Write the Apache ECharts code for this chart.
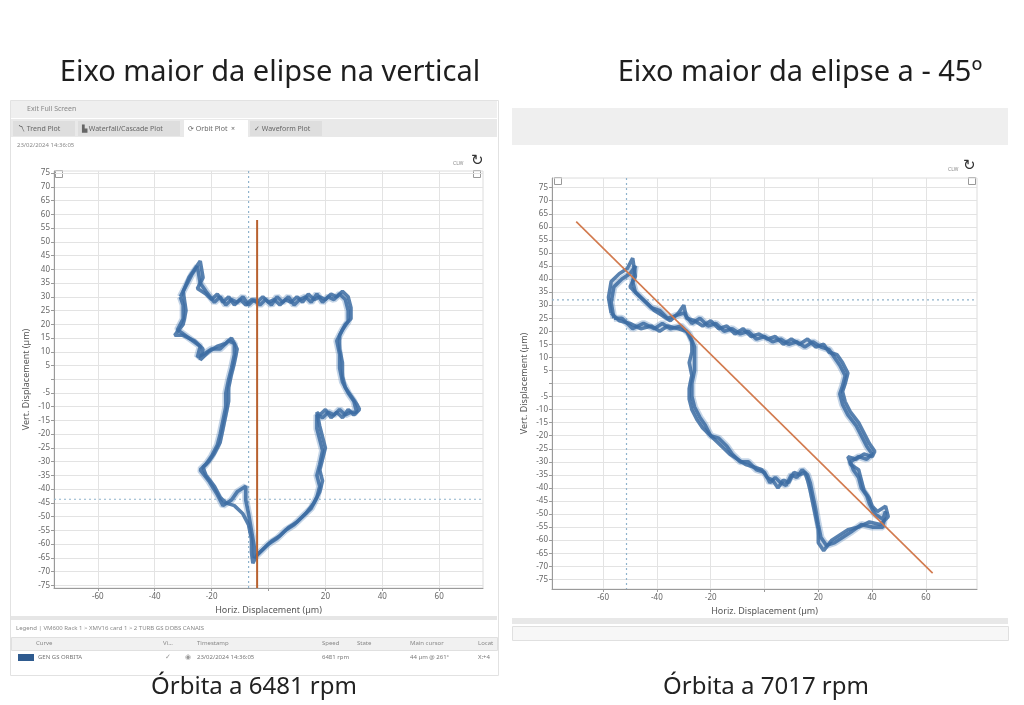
<!DOCTYPE html>
<html>
<head>
<meta charset="utf-8">
<script src="https://cdn.jsdelivr.net/npm/echarts@6/dist/echarts.min.js"></script>
<style>
  html, body { margin: 0; padding: 0; background: #fff; }
  #main { width: 1024px; height: 705px; }
</style>
</head>
<body>
<div id="main"></div>
<script>
// ticks (µm)
var xTicks = [-60, -40, -20, 0, 20, 40, 60];
var yTicks = [75, 70, 65, 60, 55, 50, 45, 40, 35, 30, 25, 20, 15, 10, 5, 0, -5, -10, -15, -20, -25, -30, -35, -40, -45, -50, -55, -60, -65, -70, -75];

// orbita a 6481 rpm (duas voltas)
var orbitLeftA = [[-30,32],[-28,37],[-26,40],[-24,43],[-23,37],[-25,33],[-22,31],[-20,29],[-18,31],[-16,28],[-14,30],[-12,27],[-10,29],[-8,27],[-6,29],[-4,28],[-2,30],[0,28],[2,29],[4,27],[6,29],[8,28],[10,30],[12,28],[14,31],[16,29],[18,30],[20,29],[22,31],[24,30],[26,32],[28,30],[29,26],[29,22],[27,20],[25,16],[25,11],[26,6],[26,1],[27,-3],[29,-6],[31,-9],[32,-11],[30,-13],[28,-11],[26,-14],[24,-12],[22,-14],[20,-11],[18,-13],[17,-12],[18,-17],[19,-21],[20,-25],[19,-29],[18,-33],[19,-37],[18,-41],[16,-45],[13,-49],[10,-52],[7,-54],[4,-57],[1,-59],[-2,-62],[-4,-64],[-5.5,-67],[-6,-63],[-6,-58],[-7,-53],[-9,-49],[-12,-46],[-15,-45],[-17,-43],[-19,-39],[-22,-35],[-23,-32],[-21,-30],[-19,-27],[-17,-23],[-16,-18],[-15,-13],[-14,-8],[-14,-3],[-13,2],[-12,6],[-11,11],[-13,15],[-15,13],[-18,12],[-21,10],[-24,7],[-23,11],[-26,14],[-30,16],[-33,16],[-30,20],[-29,25],[-30,32]];
var orbitLeftB = [[-31,30],[-29,34],[-27,38],[-25,41],[-24,35],[-22,32],[-19,28],[-17,30],[-15,27],[-13,29],[-11,28],[-9,30],[-7,27],[-5,29],[-3,27],[-1,29],[1,27],[3,30],[5,28],[7,30],[9,27],[11,29],[13,30],[15,28],[17,31],[19,28],[21,30],[23,29],[25,31],[27,29],[28,25],[28,21],[26,18],[24,14],[25,9],[25,4],[26,-1],[28,-5],[30,-8],[31,-12],[29,-12],[27,-13],[25,-11],[23,-13],[21,-12],[19,-14],[17,-13],[17,-18],[18,-22],[19,-26],[18,-31],[17,-35],[18,-39],[17,-43],[15,-47],[12,-50],[9,-53],[6,-55],[3,-58],[0,-60],[-3,-63],[-5,-65],[-5,-61],[-6,-55],[-7,-49],[-8,-44],[-8,-39],[-11,-41],[-13,-44],[-16,-46],[-18,-42],[-21,-37],[-24,-33],[-22,-31],[-20,-28],[-18,-24],[-17,-20],[-16,-15],[-15,-10],[-15,-5],[-14,0],[-13,4],[-12,9],[-12,13],[-14,14],[-17,11],[-20,11],[-23,9],[-25,8],[-24,12],[-28,15],[-32,18],[-30,22],[-30,27],[-31,30]];

// orbita a 7017 rpm
var orbitRightA = [[-57,27],[-58,33],[-57,39],[-54,42],[-51,44],[-49,48],[-48,41],[-50,37],[-47,34],[-44,31],[-41,28],[-38,26],[-35,24],[-32,27],[-30,30],[-29,25],[-26,24],[-23,22],[-20,24],[-17,21],[-14,22],[-11,19],[-8,21],[-5,18],[-2,19],[1,17],[4,18],[7,15],[10,17],[13,15],[16,17],[19,14],[22,15],[24,12],[27,11],[29,8],[31,4],[30,0],[29,-3],[30,-7],[32,-11],[35,-15],[37,-19],[39,-23],[41,-26],[40,-28],[37,-27],[34,-29],[31,-28],[32,-31],[35,-33],[36,-37],[37,-41],[39,-44],[40,-47],[42,-49],[45,-47],[46,-51],[43,-54],[39,-53],[35,-55],[31,-56],[28,-58],[25,-60],[22,-64],[20,-61],[20,-56],[19,-51],[18,-46],[17,-41],[16,-37],[15,-34],[13,-35],[11,-34],[9,-38],[7,-37],[5,-40],[3,-37],[1,-36],[-1,-33],[-4,-32],[-7,-31],[-10,-29],[-13,-27],[-15,-25],[-18,-22],[-21,-19],[-23,-17],[-25,-14],[-27,-10],[-28,-6],[-28,-2],[-27,3],[-28,8],[-27,12],[-27,16],[-29,20],[-32,21],[-36,22],[-39,20],[-42,22],[-46,21],[-50,23],[-54,24],[-57,27]];
var orbitRightB = [[-56,25],[-57,31],[-56,37],[-53,40],[-50,42],[-48,45],[-49,39],[-48,35],[-45,32],[-42,29],[-39,28],[-36,25],[-33,26],[-30,27],[-27,23],[-24,25],[-21,22],[-18,23],[-15,20],[-12,21],[-9,19],[-6,20],[-3,17],[0,18],[3,16],[6,17],[9,15],[12,16],[15,14],[18,16],[21,14],[24,13],[26,10],[28,7],[30,3],[29,-1],[28,-4],[29,-8],[31,-12],[34,-16],[36,-20],[38,-24],[40,-27],[38,-29],[35,-28],[32,-30],[33,-33],[35,-36],[36,-40],[38,-43],[39,-46],[41,-50],[44,-52],[45,-49],[44,-55],[40,-55],[36,-54],[32,-57],[29,-59],[26,-61],[23,-62],[21,-59],[20,-54],[19,-48],[18,-43],[17,-38],[16,-35],[14,-33],[12,-36],[10,-35],[8,-39],[6,-38],[4,-36],[2,-38],[0,-34],[-3,-33],[-6,-30],[-9,-30],[-12,-27],[-14,-24],[-17,-21],[-20,-20],[-22,-16],[-24,-13],[-26,-9],[-27,-5],[-27,0],[-26,5],[-26,10],[-26,14],[-28,19],[-31,22],[-35,21],[-38,23],[-41,21],[-45,23],[-49,21],[-53,25],[-56,25]];

// eixo maior (linha laranja) e cursores
var majorAxisLeft = [[-4, 58], [-4, -76]];
var majorAxisRight = [[-70, 62], [62.5, -72.6]];
var cursorLeftV = [[-7, 75.8], [-7, -76]];
var cursorLeftH = [[-75.4, -43.7], [75.4, -43.7]];
var cursorRightV = [[-51.3, 78.7], [-51.3, -78.7]];
var cursorRightH = [[-79, 32], [79, 32]];

var myChart = echarts.init(document.getElementById('main'));

function xAxisFor(idx, lim) {
  return {
    gridIndex: idx, type: 'value', min: -lim, max: lim,
    name: 'Horiz. Displacement (µm)', nameLocation: 'middle', nameGap: 14,
    nameTextStyle: { color: '#555', fontSize: 9, fontFamily: 'Noto Sans' },
    axisLine: { onZero: false, lineStyle: { color: '#9a9a9a' } },
    axisTick: { length: 3, customValues: xTicks, lineStyle: { color: '#9a9a9a' } },
    axisLabel: {
      customValues: xTicks, color: '#666', fontSize: 8, margin: 5, fontFamily: 'Noto Sans',
      formatter: function (v) { return v === 0 ? '' : v; }
    },
    splitLine: { show: true, lineStyle: { color: '#e3e3e3' } }
  };
}
function yAxisFor(idx, lo, hi) {
  return {
    gridIndex: idx, type: 'value', min: lo, max: hi,
    name: 'Vert. Displacement (µm)', nameLocation: 'middle', nameGap: 23, nameRotate: 90,
    nameTextStyle: { color: '#555', fontSize: 9, fontFamily: 'Noto Sans' },
    axisLine: { onZero: false, lineStyle: { color: '#9a9a9a' } },
    axisTick: { show: true, length: 3, customValues: yTicks, lineStyle: { color: '#9a9a9a' } },
    axisLabel: {
      customValues: yTicks, color: '#666', fontSize: 8, margin: 4, fontFamily: 'Noto Sans',
      formatter: function (v) { return v === 0 ? '' : v; }
    },
    splitLine: { show: true, lineStyle: { color: '#e3e3e3' } }
  };
}
function lineSeries(idx, data, color, width, opacity, type) {
  return {
    type: 'line', xAxisIndex: idx, yAxisIndex: idx, data: data,
    showSymbol: false, silent: true, animation: false,
    lineStyle: { color: color, width: width, opacity: opacity, type: type || 'solid' }
  };
}

var txt = function (x, y, s, size, color, align) {
  return { type: 'text', left: x, top: y, silent: true,
    style: { text: s, fontSize: size, fill: color || '#777', fontFamily: 'Noto Sans', textAlign: align || 'left' } };
};
var box = function (x, y, w, h, fill, stroke) {
  return { type: 'rect', left: x, top: y, silent: true, z: -1,
    shape: { width: w, height: h }, style: { fill: fill, stroke: stroke || null, lineWidth: 1 } };
};

myChart.setOption({
  backgroundColor: '#ffffff',
  animation: false,
  title: [
    { text: 'Eixo maior da elipse na vertical', left: 265, top: 53, textAlign: 'center',
      textStyle: { fontSize: 29, fontWeight: 'normal', color: '#1e1e1e', fontFamily: 'Noto Sans' } },
    { text: 'Eixo maior da elipse a - 45º', left: 795, top: 53, textAlign: 'center',
      textStyle: { fontSize: 29, fontWeight: 'normal', color: '#1e1e1e', fontFamily: 'Noto Sans' } },
    { text: 'Órbita a 6481 rpm', left: 249, top: 670, textAlign: 'center',
      textStyle: { fontSize: 24, fontWeight: 'normal', color: '#222', fontFamily: 'Noto Sans' } },
    { text: 'Órbita a 7017 rpm', left: 761, top: 670, textAlign: 'center',
      textStyle: { fontSize: 24, fontWeight: 'normal', color: '#222', fontFamily: 'Noto Sans' } }
  ],
  grid: [
    { left: 54, right: 541, top: 171, bottom: 117, show: true, borderColor: '#dcdcdc', outerBoundsMode: 'none' },
    { left: 552, right: 47, top: 178, bottom: 116, show: true, borderColor: '#dcdcdc', outerBoundsMode: 'none' }
  ],
  xAxis: [xAxisFor(0, 75.4), xAxisFor(1, 79)],
  yAxis: [yAxisFor(0, -76, 75.8), yAxisFor(1, -78.7, 78.7)],
  graphic: [
    // painel esquerdo (captura do software)
    box(10, 100, 488, 575, '#ffffff', '#e2e2e2'),
    box(11, 101, 486, 17, '#efefef'),
    txt(27, 105, 'Exit Full Screen', 7, '#888'),
    box(11, 119, 486, 18, '#e9e9e9'),
    box(13, 121, 62, 15, '#dedede'),
    txt(18, 125, '〽 Trend Plot', 7, '#666'),
    box(78, 121, 102, 15, '#dedede'),
    txt(82, 125, '▙ Waterfall/Cascade Plot', 7, '#666'),
    box(184, 120, 64, 17, '#ffffff'),
    txt(188, 125, '⟳ Orbit Plot  ×', 7, '#666'),
    box(250, 121, 72, 15, '#dedede'),
    txt(254, 125, '✓ Waveform Plot', 7, '#666'),
    txt(17, 142, '23/02/2024 14:36:05', 6, '#888'),
    txt(453, 161, 'CLW', 5, '#888'),
    txt(471, 153, '↻', 15, '#333'),
    box(55, 170, 7, 7, '#ffffff', '#999'),
    box(473, 170, 7, 7, '#ffffff', '#999'),
    box(11, 616, 486, 4, '#e6e6e6'),
    txt(16, 625, 'Legend | VM600 Rack 1 > XMV16 card 1 > 2 TURB GS DOBS CANAIS', 6, '#888'),
    box(11, 637, 486, 13, '#f1f1f1', '#e0e0e0'),
    txt(36, 640, 'Curve', 6, '#888'),
    txt(163, 640, 'Vi...', 6, '#888'),
    txt(197, 640, 'Timestamp', 6, '#888'),
    txt(322, 640, 'Speed', 6, '#888'),
    txt(357, 640, 'State', 6, '#888'),
    txt(410, 640, 'Main cursor', 6, '#888'),
    txt(478, 640, 'Locat', 6, '#888'),
    box(18, 654, 16, 7, '#2f5b8f'),
    txt(38, 654, 'GEN GS ORBITA', 6, '#777'),
    txt(165, 653, '✓', 7, '#999'),
    txt(185, 653, '◉', 7, '#999'),
    txt(197, 654, '23/02/2024 14:36:05', 6, '#777'),
    txt(322, 654, '6481 rpm', 6, '#777'),
    txt(410, 654, '44 µm @ 261°', 6, '#777'),
    txt(478, 654, 'X:+4', 6, '#777'),
    // painel direito
    box(512, 108, 496, 37, '#efefef'),
    txt(948, 167, 'CLW', 5, '#888'),
    txt(963, 158, '↻', 15, '#333'),
    box(554, 177, 7, 7, '#ffffff', '#999'),
    box(968, 177, 7, 7, '#ffffff', '#999'),
    box(512, 618, 496, 6, '#e8e8e8'),
    box(512, 626, 496, 14, '#f7f7f7', '#e0e0e0')
  ],
  series: [
    lineSeries(0, cursorLeftV, '#8fb3cc', 1.2, 1, [2, 3]),
    lineSeries(0, cursorLeftH, '#8fb3cc', 1.2, 1, [2, 3]),
    lineSeries(0, orbitLeftB, '#6f97c4', 7, 0.4),
    lineSeries(0, orbitLeftB, '#3c6ca2', 3.6, 0.85),
    lineSeries(0, orbitLeftA, '#3c6ca2', 3.6, 0.85),
    lineSeries(0, majorAxisLeft, '#b8612f', 2, 1),
    lineSeries(1, cursorRightV, '#8fb3cc', 1.2, 1, [2, 3]),
    lineSeries(1, cursorRightH, '#8fb3cc', 1.2, 1, [2, 3]),
    lineSeries(1, orbitRightB, '#6f97c4', 7, 0.4),
    lineSeries(1, orbitRightB, '#3c6ca2', 3.6, 0.85),
    lineSeries(1, orbitRightA, '#3c6ca2', 3.6, 0.85),
    lineSeries(1, majorAxisRight, '#d27a4e', 1.6, 1)
  ]
});
</script>
</body>
</html>
